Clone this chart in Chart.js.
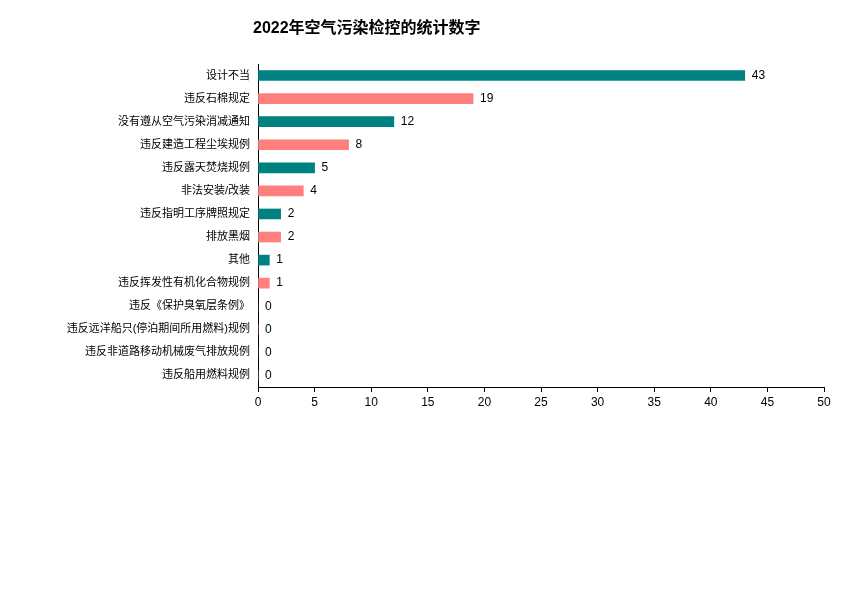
<!DOCTYPE html>
<html>
<head>
<meta charset="utf-8">
<script src="https://cdn.jsdelivr.net/npm/chart.js@4"></script>
<style>
  html, body { margin: 0; padding: 0; background: #fff; }
  #wrap { width: 846px; height: 596px; }
</style>
</head>
<body>
<div id="wrap"><canvas id="grafico"></canvas></div>
<script>
const categorias = [
    '设计不当',
    '违反石棉规定',
    '没有遵从空气污染消减通知',
    '违反建造工程尘埃规例',
    '违反露天焚烧规例',
    '非法安装/改装',
    '违反指明工序牌照规定',
    '排放黑烟',
    '其他',
    '违反挥发性有机化合物规例',
    '违反《保护臭氧层条例》',
    '违反远洋船只(停泊期间所用燃料)规例',
    '违反非道路移动机械废气排放规例',
    '违反船用燃料规例'
];
const valores = [43, 19, 12, 8, 5, 4, 2, 2, 1, 1, 0, 0, 0, 0];
const colores = ['#008080', '#FF7F7F'];
const ticksX = [0, 5, 10, 15, 20, 25, 30, 35, 40, 45, 50];
const titulo = '2022年空气污染检控的统计数字';

const fuente = "'Liberation Sans', Arial, 'Noto Sans CJK SC', sans-serif";

// etiquetas de valor al final de cada barra + titulo
const pluginEtiquetas = {
    id: 'etiquetas',
    afterDatasetsDraw(chart) {
        const ctx = chart.ctx;
        const meta = chart.getDatasetMeta(0);
        ctx.save();
        ctx.fillStyle = '#000';
        ctx.font = '12px ' + fuente;
        ctx.textBaseline = 'middle';
        ctx.textAlign = 'left';
        meta.data.forEach((bar, i) => {
            ctx.fillText(String(valores[i]), bar.x + 7, bar.y);
        });
        ctx.font = 'bold 16px ' + fuente;
        ctx.fillText(titulo, 253, 29);
        ctx.restore();
    }
};

const ctx = document.getElementById('grafico').getContext('2d');
const miGrafico = new Chart(ctx, {
    type: 'bar',
    data: {
        labels: categorias,
        datasets: [{
            data: valores,
            backgroundColor: valores.map((v, i) => colores[i % 2]),
            barThickness: 10
        }]
    },
    options: {
        indexAxis: 'y',
        responsive: true,
        maintainAspectRatio: false,
        animation: false,
        layout: { padding: { left: 0, top: 64, right: 22, bottom: 179 } },
        plugins: {
            legend: { display: false },
            title: { display: false },
            tooltip: { enabled: false }
        },
        scales: {
            x: {
                min: 0,
                max: 50,
                afterBuildTicks: (scale) => { scale.ticks = ticksX.map(v => ({ value: v })); },
                afterFit: (scale) => { scale.height = 30; },
                grid: { drawOnChartArea: false, drawTicks: true, tickLength: 5, color: '#000' },
                border: { color: '#000', width: 1 },
                ticks: { color: '#000', font: { size: 12, family: fuente }, padding: 3, maxRotation: 0 }
            },
            y: {
                afterFit: (scale) => { scale.width = 258; },
                grid: { display: false, drawTicks: false },
                border: { display: true, color: '#000', width: 1 },
                ticks: { color: '#000', font: { size: 11, family: fuente }, padding: 8, autoSkip: false }
            }
        }
    },
    plugins: [pluginEtiquetas]
});
</script>
</body>
</html>
